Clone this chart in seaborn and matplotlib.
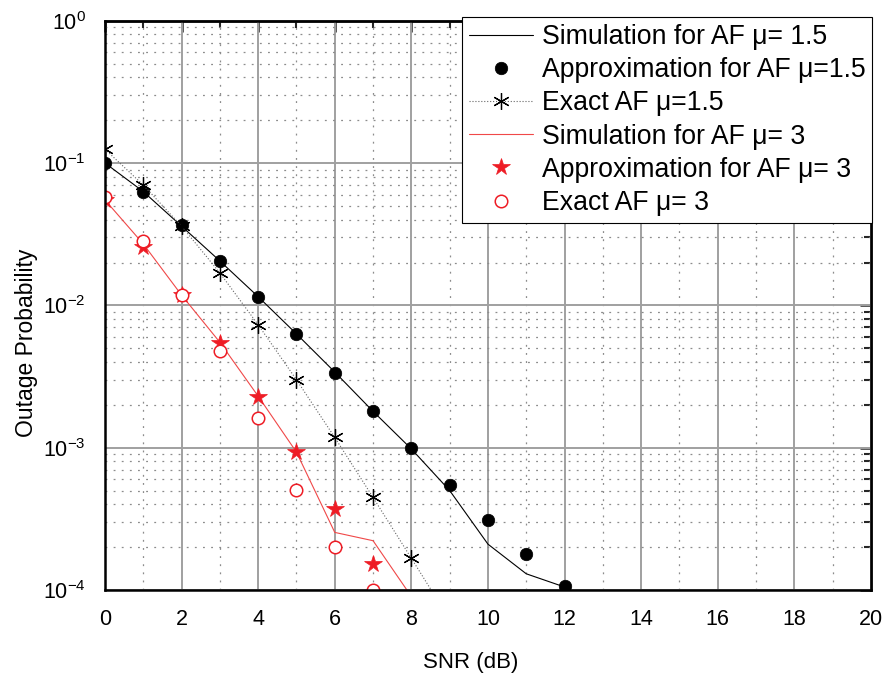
import numpy as np
import pandas as pd
import matplotlib
matplotlib.use('Agg')
import matplotlib.pyplot as plt
from matplotlib.ticker import LogLocator, MultipleLocator, NullFormatter
import seaborn as sns

# values
snr_sim15 = [0, 1, 2, 3, 4, 5, 6, 7, 8, 9, 10, 11, 12]
sim_mu15 = [0.1, 0.063, 0.036, 0.0205, 0.0115, 0.0063, 0.0034, 0.0018,
            0.00098, 0.0005, 0.00021, 0.00013, 0.000105]
snr_approx15 = [0, 1, 2, 3, 4, 5, 6, 7, 8, 9, 10, 11, 12]
approx_mu15 = [0.1, 0.0625, 0.0366, 0.0206, 0.0115, 0.0063, 0.00336, 0.00182,
               0.00099, 0.000546, 0.00031, 0.000178, 0.000107]
snr_exact15 = [0, 1, 2, 3, 4, 5, 6, 7, 8, 9]
exact_mu15 = [0.125, 0.07, 0.036, 0.0169, 0.0073, 0.003, 0.00118, 0.000447,
              0.000167, 0.000062]

snr_sim3 = [0, 1, 2, 3, 4, 5, 6, 7, 8]
sim_mu3 = [0.055, 0.027, 0.0118, 0.0055, 0.0023, 0.00093, 0.000254, 0.000222, 0.00009]
snr_approx3 = [0, 1, 2, 3, 4, 5, 6, 7]
approx_mu3 = [0.055, 0.0258, 0.0118, 0.0054, 0.00228, 0.000927, 0.000372, 0.000152]
snr_exact3 = [0, 1, 2, 3, 4, 5, 6, 7]
exact_mu3 = [0.0575, 0.0283, 0.0118, 0.00477, 0.00162, 0.000504, 0.000201, 0.0001]

RED = '#ee1c25'

sns.set_style('white')
plt.rcParams['font.family'] = ['Liberation Sans', 'DejaVu Sans']
plt.rcParams['mathtext.fontset'] = 'custom'
plt.rcParams['mathtext.rm'] = 'Liberation Sans'
plt.rcParams['mathtext.it'] = 'Liberation Sans:italic'
plt.rcParams['text.color'] = 'black'
plt.rcParams['axes.labelcolor'] = 'black'

fig = plt.figure(figsize=(8.86, 6.81), dpi=100)
ax = fig.add_axes([0.1185, 0.1336, 0.8645, 0.836])

sns.lineplot(x=snr_sim15, y=sim_mu15, ax=ax, color='black', lw=0.8,
             label='Simulation for AF \u03bc= 1.5')
sns.lineplot(x=snr_approx15, y=approx_mu15, ax=ax, color='black', linestyle='none',
             marker='o', markersize=9, markeredgecolor='black', markeredgewidth=0.5,
             label='Approximation for AF \u03bc=1.5')
sns.lineplot(x=snr_exact15, y=exact_mu15, ax=ax, color='#666666', lw=0.8, linestyle=':',
             marker=(6, 2, 0), markersize=12, markeredgecolor='black', markeredgewidth=0.9,
             label='Exact AF \u03bc=1.5')
sns.lineplot(x=snr_sim3, y=sim_mu3, ax=ax, color='#f04848', lw=0.8,
             label='Simulation for AF \u03bc= 3')
sns.lineplot(x=snr_approx3, y=approx_mu3, ax=ax, color=RED, linestyle='none',
             marker='*', markersize=13, markeredgecolor=RED, markeredgewidth=0.5,
             label='Approximation for AF \u03bc= 3')
sns.lineplot(x=snr_exact3, y=exact_mu3, ax=ax, color=RED, linestyle='none',
             marker='o', markersize=9, markerfacecolor='white', markeredgecolor=RED,
             markeredgewidth=1.1, label='Exact AF \u03bc= 3')

ax.set_yscale('log')
ax.set_xlim(0, 20)
ax.set_ylim(1e-4, 1)
ax.xaxis.set_major_locator(MultipleLocator(2))
ax.xaxis.set_minor_locator(MultipleLocator(1))
ax.yaxis.set_major_locator(LogLocator(base=10, numticks=10))
ax.yaxis.set_minor_locator(LogLocator(base=10, subs=np.arange(2, 10), numticks=20))
ax.yaxis.set_minor_formatter(NullFormatter())

ax.grid(which='major', color='#a0a0a0', lw=1.4, ls='-')
ax.grid(which='minor', color='#8c8c8c', lw=0.9, ls=(0, (1.5, 5)))
ax.set_axisbelow(True)

for s in ax.spines.values():
    s.set_color('black')
    s.set_linewidth(1.8)

ax.tick_params(which='major', direction='out', length=8, width=1.8, labelsize=15.5,
               colors='black', pad=6)
ax.tick_params(which='minor', direction='out', length=5, width=1.5, colors='black')

top = ax.secondary_xaxis('top')
top.xaxis.set_major_locator(MultipleLocator(2))
top.xaxis.set_minor_locator(MultipleLocator(1))
top.tick_params(which='major', direction='in', length=8, width=1.8, labeltop=False)
top.tick_params(which='minor', direction='in', length=5, width=1.5)
top.spines['top'].set_linewidth(1.8)

right = ax.secondary_yaxis('right')
right.yaxis.set_major_locator(LogLocator(base=10, numticks=10))
right.yaxis.set_minor_locator(LogLocator(base=10, subs=np.arange(2, 10), numticks=20))
right.tick_params(which='major', direction='in', length=8, width=1.8, labelright=False)
right.tick_params(which='minor', direction='in', length=5, width=1.5, labelright=False)
right.spines['right'].set_linewidth(1.8)

ax.set_xlabel('SNR (dB)', fontsize=16)
ax.set_ylabel('Outage Probability', fontsize=16.5)
ax.xaxis.set_label_coords(0.478, -0.108)
ax.yaxis.set_label_coords(-0.088, 0.435)

leg = ax.legend(loc='upper right', bbox_to_anchor=(1.002, 1.006), borderaxespad=0,
                fontsize=19.2, frameon=True, fancybox=False, framealpha=1,
                edgecolor='black', labelspacing=0.27, handlelength=2.4,
                handletextpad=0.35, borderpad=0.25)
leg.get_frame().set_linewidth(0.8)
leg.set_zorder(10)

fig.savefig('out.png', dpi=100)
